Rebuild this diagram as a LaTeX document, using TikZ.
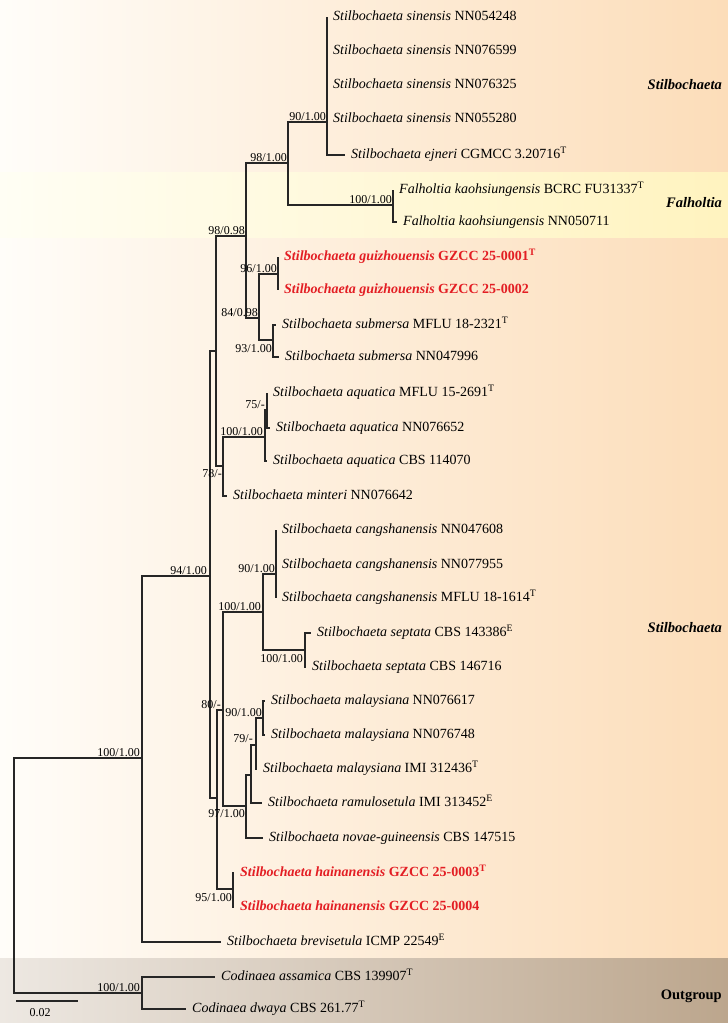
\documentclass[tikz,border=0pt]{standalone}
\usepackage{fontspec}
\setmainfont{Liberation Serif}
\usepackage{xcolor}
\definecolor{bgleft}{HTML}{FFFDF9}
\definecolor{bgmid}{HTML}{FEF2E3}
\definecolor{peach}{HTML}{FCDDB9}
\definecolor{falleft}{HTML}{FFFEF4}
\definecolor{falmid}{HTML}{FFF9DD}
\definecolor{falright}{HTML}{FFF3BF}
\definecolor{outleft}{HTML}{EDE8E2}
\definecolor{outright}{HTML}{BCA68D}
\definecolor{newsp}{HTML}{E31E24}
\newcommand{\typ}{\textsuperscript{T}}
\newcommand{\epi}{\textsuperscript{E}}

\begin{document}
\begin{tikzpicture}[x=1pt, y=-1pt,
  branch/.style={line width=1.1pt, draw=black!85},
  tip/.style={anchor=west, inner xsep=6pt, inner ysep=0pt, text height=10pt, text depth=3pt, font=\fontsize{14}{16}\selectfont},
  newtip/.style={tip, text=newsp, font=\fontsize{14}{16}\selectfont\bfseries},
  sup/.style={anchor=base east, inner sep=0pt, font=\fontsize{12}{14}\selectfont},
  clade/.style={anchor=east, inner sep=0pt, font=\fontsize{14.5}{16}\selectfont\bfseries\itshape}]

  % Background bands
  \shade[left color=bgleft, middle color=bgmid, right color=peach] (0,0) rectangle (728,1023);
  \shade[left color=falleft, middle color=falmid, right color=falright] (0,172) rectangle (728,237);
  \shade[left color=outleft, right color=outright] (0,958) rectangle (728,1023);
  \useasboundingbox (0,0) rectangle (728,1023);

  % Internal nodes
  \coordinate (root) at (14,875);
  \coordinate (nout) at (142,993);
  \coordinate (nin) at (142,758);
  \coordinate (n94) at (210,576);
  \coordinate (nup) at (216,351);
  \coordinate (n9898) at (246,236);
  \coordinate (n9810) at (288,163);
  \coordinate (n9010) at (327,122);
  \coordinate (nfal) at (393,205);
  \coordinate (n8498) at (259,318);
  \coordinate (n9610) at (278,274);
  \coordinate (n9310) at (273,340);
  \coordinate (n78) at (223,466);
  \coordinate (naq) at (265,437);
  \coordinate (n75) at (267,410);
  \coordinate (nlow) at (217,798);
  \coordinate (n80) at (223,710);
  \coordinate (ncs) at (263,612);
  \coordinate (n90c) at (276,574);
  \coordinate (nsep) at (305,650);
  \coordinate (n97) at (246,806);
  \coordinate (nx) at (251,775);
  \coordinate (n79) at (256,745);
  \coordinate (n90m) at (263,718);
  \coordinate (n95) at (233,889);

  % Tips
  \node[tip] (t01) at (327,17) {\textit{Stilbochaeta sinensis} NN054248};
  \node[tip] (t02) at (327,51) {\textit{Stilbochaeta sinensis} NN076599};
  \node[tip] (t03) at (327,85) {\textit{Stilbochaeta sinensis} NN076325};
  \node[tip] (t04) at (327,119) {\textit{Stilbochaeta sinensis} NN055280};
  \node[tip] (t05) at (345,155) {\textit{Stilbochaeta ejneri} CGMCC 3.20716\typ};
  \node[tip] (t06) at (393,190) {\textit{Falholtia kaohsiungensis} BCRC FU31337\typ};
  \node[tip] (t07) at (397,222) {\textit{Falholtia kaohsiungensis} NN050711};
  \node[newtip] (t08) at (278,257) {\textit{Stilbochaeta guizhouensis} GZCC 25-0001\typ};
  \node[newtip] (t09) at (278,290) {\textit{Stilbochaeta guizhouensis} GZCC 25-0002};
  \node[tip] (t10) at (276,325) {\textit{Stilbochaeta submersa} MFLU 18-2321\typ};
  \node[tip] (t11) at (279,357) {\textit{Stilbochaeta submersa} NN047996};
  \node[tip] (t12) at (267,393) {\textit{Stilbochaeta aquatica} MFLU 15-2691\typ};
  \node[tip] (t13) at (270,428) {\textit{Stilbochaeta aquatica} NN076652};
  \node[tip] (t14) at (267,461) {\textit{Stilbochaeta aquatica} CBS 114070};
  \node[tip] (t15) at (227,496) {\textit{Stilbochaeta minteri} NN076642};
  \node[tip] (t16) at (276,530) {\textit{Stilbochaeta cangshanensis} NN047608};
  \node[tip] (t17) at (276,565) {\textit{Stilbochaeta cangshanensis} NN077955};
  \node[tip] (t18) at (276,598) {\textit{Stilbochaeta cangshanensis} MFLU 18-1614\typ};
  \node[tip] (t19) at (311,633) {\textit{Stilbochaeta septata} CBS 143386\epi};
  \node[tip] (t20) at (306,667) {\textit{Stilbochaeta septata} CBS 146716};
  \node[tip] (t21) at (265,701) {\textit{Stilbochaeta malaysiana} NN076617};
  \node[tip] (t22) at (265,735) {\textit{Stilbochaeta malaysiana} NN076748};
  \node[tip] (t23) at (257,769) {\textit{Stilbochaeta malaysiana} IMI 312436\typ};
  \node[tip] (t24) at (262,803) {\textit{Stilbochaeta ramulosetula} IMI 313452\epi};
  \node[tip] (t25) at (263,838) {\textit{Stilbochaeta novae-guineensis} CBS 147515};
  \node[newtip] (t26) at (234,873) {\textit{Stilbochaeta hainanensis} GZCC 25-0003\typ};
  \node[newtip] (t27) at (234,907) {\textit{Stilbochaeta hainanensis} GZCC 25-0004};
  \node[tip] (t28) at (221,942) {\textit{Stilbochaeta brevisetula} ICMP 22549\epi};
  \node[tip] (t29) at (215,977) {\textit{Codinaea assamica} CBS 139907\typ};
  \node[tip] (t30) at (186,1009) {\textit{Codinaea dwaya} CBS 261.77\typ};

  % Branches
  \draw[branch] (root) |- (nin) (root) |- (nout);
  \draw[branch] (nout) |- (t29.west) (nout) |- (t30.west);
  \draw[branch] (nin) |- (n94) (nin) |- (t28.west);
  \draw[branch] (n94) |- (nup) (n94) |- (nlow);
  \draw[branch] (nup) |- (n9898) (nup) |- (n78);
  \draw[branch] (n9898) |- (n9810) (n9898) |- (n8498);
  \draw[branch] (n9810) |- (n9010) (n9810) |- (nfal);
  \draw[branch] (n9010) |- (t01.west) (n9010) |- (t02.west) (n9010) |- (t03.west)
                (n9010) |- (t04.west) (n9010) |- (t05.west);
  \draw[branch] (nfal) |- (t06.west) (nfal) |- (t07.west);
  \draw[branch] (n8498) |- (n9610) (n8498) |- (n9310);
  \draw[branch] (n9610) |- (t08.west) (n9610) |- (t09.west);
  \draw[branch] (n9310) |- (t10.west) (n9310) |- (t11.west);
  \draw[branch] (n78) |- (naq) (n78) |- (t15.west);
  \draw[branch] (naq) |- (n75) (naq) |- (t14.west);
  \draw[branch] (n75) |- (t12.west) (n75) |- (t13.west);
  \draw[branch] (nlow) |- (n80) (nlow) |- (n95);
  \draw[branch] (n80) |- (ncs) (n80) |- (n97);
  \draw[branch] (ncs) |- (n90c) (ncs) |- (nsep);
  \draw[branch] (n90c) |- (t16.west) (n90c) |- (t17.west) (n90c) |- (t18.west);
  \draw[branch] (nsep) |- (t19.west) (nsep) |- (t20.west);
  \draw[branch] (n97) |- (nx) (n97) |- (t25.west);
  \draw[branch] (nx) |- (n79) (nx) |- (t24.west);
  \draw[branch] (n79) |- (n90m) (n79) |- (t23.west);
  \draw[branch] (n90m) |- (t21.west) (n90m) |- (t22.west);
  \draw[branch] (n95) |- (t26.west) (n95) |- (t27.west);

  % Support values
  \node[sup] (s9010) at (326,120) {90/1.00};
  \node[sup] (s9810) at (287,161) {98/1.00};
  \node[sup] (sfal) at (392,203) {100/1.00};
  \node[sup] (s9898) at (245,234) {98/0.98};
  \node[sup] (s9610) at (277,272) {96/1.00};
  \node[sup] (s8498) at (258,316) {84/0.98};
  \node[sup] (s9310) at (272,352) {93/1.00};
  \node[sup] (s75) at (265,408) {75/-};
  \node[sup] (saq) at (263,435) {100/1.00};
  \node[sup] (s78) at (222,477) {78/-};
  \node[sup] (s94) at (207,574) {94/1.00};
  \node[sup] (s90c) at (275,572) {90/1.00};
  \node[sup] (scs) at (261,610) {100/1.00};
  \node[sup] (ssep) at (303,662) {100/1.00};
  \node[sup] (s80) at (221,708) {80/-};
  \node[sup] (s90m) at (262,716) {90/1.00};
  \node[sup] (s79) at (253,742) {79/-};
  \node[sup] (s97) at (245,817) {97/1.00};
  \node[sup] (s95) at (232,901) {95/1.00};
  \node[sup] (sin) at (140,756) {100/1.00};
  \node[sup] (sout) at (140,991) {100/1.00};

  % Clade names
  \node[clade] (c1) at (722,85) {Stilbochaeta};
  \node[clade] (c2) at (722,203) {Falholtia};
  \node[clade] (c3) at (722,628) {Stilbochaeta};
  \node[clade, font=\fontsize{14.5}{16}\selectfont\bfseries] (c4) at (722,996) {Outgroup};

  % Scale bar
  \coordinate (sb1) at (16,1001);
  \coordinate (sb2) at (78,1001);
  \draw[branch] (sb1) -- (sb2);
  \node[font=\fontsize{12}{14}\selectfont, inner sep=0pt] (scl) at (40,1013) {0.02};
\end{tikzpicture}
\end{document}
